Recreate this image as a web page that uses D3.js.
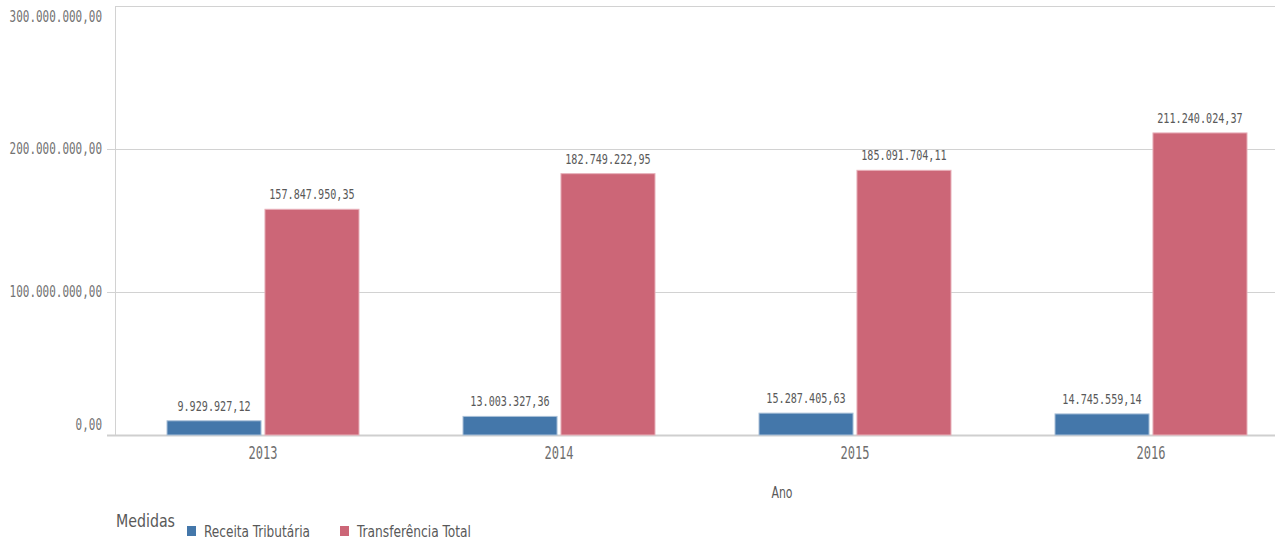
<!DOCTYPE html>
<html><head><meta charset="utf-8">
<script src="https://cdn.jsdelivr.net/npm/d3@7"></script>
<style>html,body{margin:0;padding:0;background:#fff;}svg{display:block;}</style>
</head><body>
<svg id="chart" width="1276" height="542"></svg>
<script>
const years = ["2013", "2014", "2015", "2016"];
const seriesNames = ["Receita Tributária", "Transferência Total"];
const receitaTributaria = [9929927.12, 13003327.36, 15287405.63, 14745559.14];
const transferenciaTotal = [157847950.35, 182749222.95, 185091704.11, 211240024.37];
const yTicks = [0, 100000000, 200000000, 300000000];
const colors = ["#4477aa", "#cc6677"];

(function () {
const svg = d3.select("#chart");
const pLeft = 115, pRight = 1275, pTop = 6, pBottom = 435;
const loc = d3.formatLocale({decimal: ",", thousands: ".", grouping: [3], currency: ["", ""]});
const fmt = loc.format(",.2f");

const x = d3.scaleBand().domain(years).range([pLeft, pLeft + 4 * 296]).paddingInner(0).paddingOuter(0);
const xs = d3.scaleBand().domain(seriesNames).range([0, 192]).paddingInner(0.04);
const y = d3.scaleLinear().domain([0, 300000000]).range([pBottom, pTop]);

// gridlines
const g = svg.append("g");
yTicks.forEach(t => {
  g.append("line").attr("x1", t === 300000000 ? pLeft : 107).attr("x2", pRight)
    .attr("y1", Math.round(y(t)) + 0.5).attr("y2", Math.round(y(t)) + 0.5)
    .attr("stroke", t === 0 ? "#cfcfcf" : "#d2d2d2").attr("stroke-width", t === 0 ? 2 : 1);
});
g.append("line").attr("x1", pLeft + 0.5).attr("x2", pLeft + 0.5).attr("y1", pTop).attr("y2", pBottom)
  .attr("stroke", "#d2d2d2");

// y tick labels
const mono = "'DejaVu Sans Mono', monospace";
yTicks.forEach(t => {
  let yy = y(t);
  if (t === 300000000) yy = 17;
  if (t === 0) yy = 425;
  const s = fmt(t);
  svg.append("text").attr("x", 102).attr("y", yy).attr("dy", "0.36em")
    .attr("text-anchor", "end").attr("font-family", mono).attr("font-size", 15)
    .attr("fill", "#737373").attr("textLength", s.length * 6.6).attr("lengthAdjust", "spacingAndGlyphs")
    .text(s);
});

// bars
const series = [receitaTributaria, transferenciaTotal];
series.forEach((vals, si) => {
  const name = seriesNames[si];
  const gg = svg.append("g");
  gg.selectAll("rect").data(years).join("rect")
    .attr("x", d => x(d) + (x.bandwidth() - 192) / 2 + xs(name))
    .attr("width", xs.bandwidth())
    .attr("y", (d, i) => y(vals[i]))
    .attr("height", (d, i) => pBottom - y(vals[i]))
    .attr("fill", colors[si])
    .attr("stroke", si === 0 ? "#a9c0d8" : "#e8b0ba").attr("stroke-width", 1);
  gg.selectAll("text").data(years).join("text")
    .attr("x", d => x(d) + (x.bandwidth() - 192) / 2 + xs(name) + xs.bandwidth() / 2)
    .attr("y", (d, i) => y(vals[i]) - 10)
    .attr("text-anchor", "middle").attr("font-family", mono).attr("font-size", 14.5)
    .attr("fill", "#595959")
    .attr("textLength", (d, i) => fmt(vals[i]).length * 6.1).attr("lengthAdjust", "spacingAndGlyphs")
    .text((d, i) => fmt(vals[i]));
});

// x tick labels
svg.append("g").selectAll("text").data(years).join("text")
  .attr("x", d => x(d) + x.bandwidth() / 2).attr("y", 459)
  .attr("text-anchor", "middle").attr("font-family", mono).attr("font-size", 17)
  .attr("fill", "#6e6e6e").attr("textLength", 29).attr("lengthAdjust", "spacingAndGlyphs")
  .text(d => d);

// axis title
const cond = "'DejaVu Sans Condensed', 'DejaVu Sans', sans-serif";
svg.append("text").attr("x", 782).attr("y", 498).attr("text-anchor", "middle")
  .attr("font-family", cond).attr("font-size", 15).attr("fill", "#595959")
  .attr("textLength", 21).attr("lengthAdjust", "spacingAndGlyphs").text("Ano");

// legend
svg.append("text").attr("x", 116).attr("y", 527).attr("font-family", cond).attr("font-size", 18)
  .attr("fill", "#595959").attr("textLength", 59).attr("lengthAdjust", "spacingAndGlyphs").text("Medidas");
const legX = [187, 340];
const legW = [106, 114];
seriesNames.forEach((n, i) => {
  svg.append("rect").attr("x", legX[i]).attr("y", 526).attr("width", 9).attr("height", 10).attr("fill", colors[i]);
  svg.append("text").attr("x", legX[i] + 17).attr("y", 537).attr("font-family", cond).attr("font-size", 15)
    .attr("fill", "#595959").attr("textLength", legW[i]).attr("lengthAdjust", "spacingAndGlyphs").text(n);
});
})();
</script>
</body></html>
